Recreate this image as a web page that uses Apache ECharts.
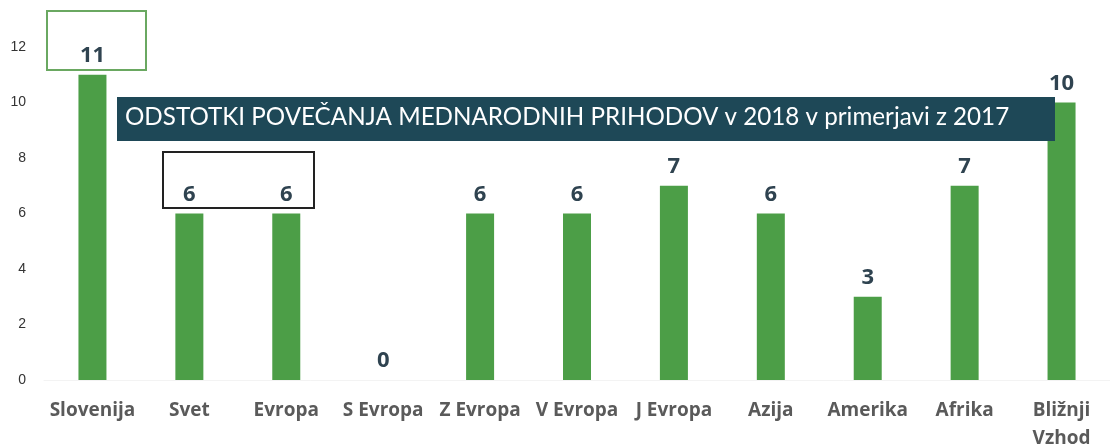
<!DOCTYPE html>
<html>
<head>
<meta charset="utf-8">
<script src="https://cdn.jsdelivr.net/npm/echarts@6/dist/echarts.min.js"></script>
<style>
  html, body { margin: 0; padding: 0; background: #fff; }
  #main { width: 1110px; height: 448px; }
</style>
</head>
<body>
<div id="main"></div>
<script>
// podatki
var regije = ['Slovenija', 'Svet', 'Evropa', 'S Evropa', 'Z Evropa', 'V Evropa', 'J Evropa', 'Azija', 'Amerika', 'Afrika', 'Bližnji\nVzhod'];
var povecanje = [11, 6, 6, 0, 6, 6, 7, 6, 3, 7, 10];
var yTicks = [0, 2, 4, 6, 8, 10, 12];

var naslov = 'ODSTOTKI POVEČANJA MEDNARODNIH PRIHODOV v 2018 v primerjavi z 2017';

var myChart = echarts.init(document.getElementById('main'));

var option = {
    animation: false,
    grid: { left: 44, right: 0, top: 47, bottom: 68, outerBoundsMode: 'none' },
    xAxis: {
        type: 'category',
        data: regije,
        axisTick: { show: false },
        axisLine: { lineStyle: { color: '#f3f3f3' } },
        axisLabel: {
            color: '#5a5a5a',
            fontFamily: 'Open Sans',
            fontWeight: 'bold',
            fontSize: 19,
            margin: 17,
            lineHeight: 28,
            interval: 0
        }
    },
    yAxis: {
        type: 'value',
        min: yTicks[0],
        max: yTicks[yTicks.length - 1],
        interval: 2,
        splitLine: { show: false },
        axisLine: { show: false },
        axisTick: { show: false },
        axisLabel: { color: '#333', fontSize: 14, fontFamily: 'Liberation Sans', margin: 18 }
    },
    series: [{
        type: 'bar',
        data: povecanje,
        barWidth: 28,
        itemStyle: { color: '#4c9e47' },
        label: {
            show: true,
            position: 'top',
            distance: 8,
            color: '#2f4350',
            fontFamily: 'Open Sans',
            fontWeight: 'bold',
            fontSize: 22
        }
    }],
    graphic: [
        {
            type: 'rect',
            shape: { x: 117, y: 97, width: 938, height: 44 },
            style: { fill: '#1e4857' },
            z: 10
        },
        {
            type: 'text',
            left: 125, top: 105,
            style: { text: naslov, fill: '#fff', fontFamily: 'Lato', fontSize: 24.2 },
            z: 11
        },
        {
            type: 'rect',
            shape: { x: 163, y: 152, width: 151, height: 56 },
            style: { fill: 'none', stroke: '#222', lineWidth: 2 },
            z: 5
        },
        {
            type: 'rect',
            shape: { x: 47, y: 11, width: 99, height: 59 },
            style: { fill: 'none', stroke: '#6aa861', lineWidth: 2 },
            z: 5
        }
    ]
};

myChart.setOption(option);
</script>
</body>
</html>
